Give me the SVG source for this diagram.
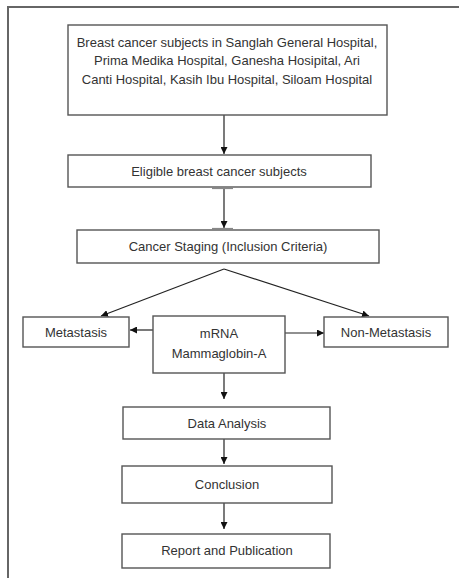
<svg xmlns="http://www.w3.org/2000/svg" width="459" height="578" viewBox="0 0 459 578">
<style>
.box{fill:#fff;stroke:#555;stroke-width:1.4}
.t{font-family:"Liberation Sans",Arial,sans-serif;font-size:13px;fill:#333;text-anchor:middle}
.c{stroke:#222;stroke-width:1.2;fill:none}
.tick{stroke:#888;stroke-width:1.2}
.frame{stroke:#666;stroke-width:2;fill:none}
</style>
<defs>
<marker id="ah" viewBox="0 0 10 10" refX="10" refY="5" markerWidth="7" markerHeight="7" markerUnits="userSpaceOnUse" orient="auto">
<path d="M0,0 L10,5 L0,10 z" fill="#111"/>
</marker>
</defs>
<path class="frame" d="M8,578 V7 H459"/>
<g id="connectors">
<line class="c" x1="224" y1="115" x2="224" y2="154" marker-end="url(#ah)"/>
<line class="c" x1="224" y1="189" x2="224" y2="228" marker-end="url(#ah)"/>
<line class="tick" x1="212" y1="188.5" x2="233" y2="188.5"/>
<line class="tick" x1="212" y1="228.5" x2="233" y2="228.5"/>
<line class="c" x1="224" y1="269" x2="101" y2="316" marker-end="url(#ah)"/>
<line class="c" x1="224" y1="269" x2="369" y2="316" marker-end="url(#ah)"/>
<line class="c" x1="153" y1="330" x2="130" y2="330" marker-end="url(#ah)"/>
<line class="c" x1="285" y1="333" x2="324" y2="333" marker-end="url(#ah)"/>
<line class="c" x1="224" y1="373" x2="224" y2="399" marker-end="url(#ah)"/>
<line class="c" x1="224" y1="439" x2="224" y2="464" marker-end="url(#ah)"/>
<line class="c" x1="224" y1="503" x2="224" y2="529" marker-end="url(#ah)"/>
</g>
<g id="n1">
<rect class="box" x="68" y="25" width="319" height="90"/>
<text class="t" x="227" y="47">Breast cancer subjects in Sanglah General Hospital,</text>
<text class="t" x="227" y="65">Prima Medika Hospital, Ganesha Hosipital,  Ari</text>
<text class="t" x="227" y="84">Canti Hospital, Kasih Ibu Hospital, Siloam Hospital</text>
</g>
<g id="n2">
<rect class="box" x="68" y="155" width="303" height="32"/>
<text class="t" x="219" y="176">Eligible breast cancer subjects</text>
</g>
<g id="n3">
<rect class="box" x="77" y="230" width="302" height="33"/>
<text class="t" x="228" y="251">Cancer Staging (Inclusion Criteria)</text>
</g>
<g id="n4">
<rect class="box" x="23" y="317" width="106" height="30"/>
<text class="t" x="76" y="337">Metastasis</text>
</g>
<g id="n5">
<rect class="box" x="153" y="316" width="132" height="57"/>
<text class="t" x="219" y="338">mRNA</text>
<text class="t" x="219" y="358">Mammaglobin-A</text>
</g>
<g id="n6">
<rect class="box" x="324" y="317" width="124" height="30"/>
<text class="t" x="386" y="337">Non-Metastasis</text>
</g>
<g id="n7">
<rect class="box" x="123" y="407" width="207" height="32"/>
<text class="t" x="227" y="428">Data Analysis</text>
</g>
<g id="n8">
<rect class="box" x="122" y="466" width="210" height="37"/>
<text class="t" x="227" y="489">Conclusion</text>
</g>
<g id="n9">
<rect class="box" x="122" y="534" width="208" height="34"/>
<text class="t" x="227" y="555">Report and Publication</text>
</g>
</svg>
